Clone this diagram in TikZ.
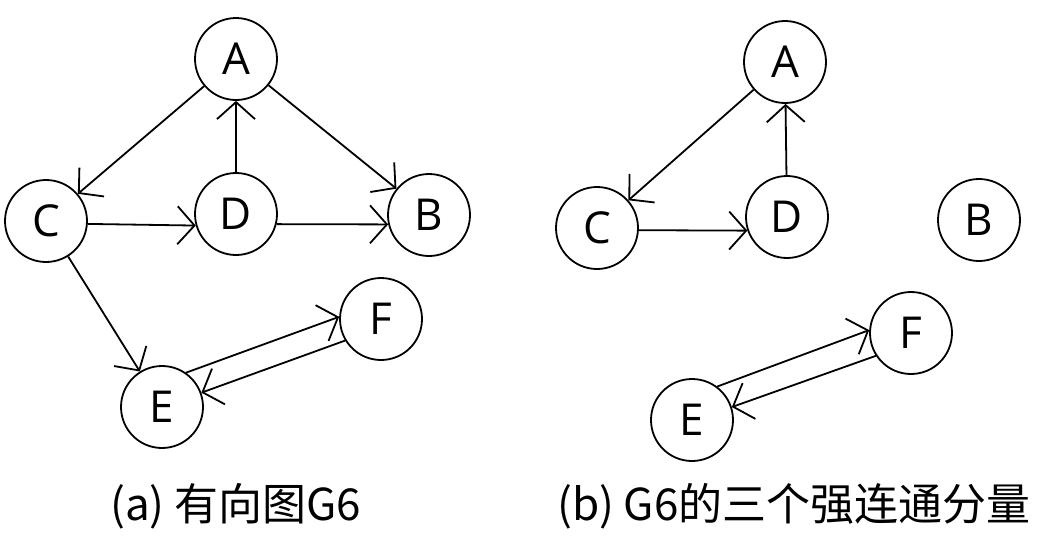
\documentclass[tikz,border=0pt]{standalone}
\usepackage{fontspec}
\setmainfont{Noto Sans CJK SC}
\newfontfamily\latinfont{Open Sans}
\usetikzlibrary{arrows.meta}

\begin{document}
\begin{tikzpicture}[x=1pt,y=-1pt,
  vertex/.style={circle, draw, line width=1.8pt, minimum size=82pt, inner sep=0pt,
                 font=\latinfont\fontsize{44}{44}\selectfont},
  arr/.style={line width=1.8pt, -{Straight Barb[length=17pt,width=38pt]}},
  caption/.style={font=\fontsize{44}{44}\selectfont, anchor=base west, inner sep=0pt}]
\useasboundingbox (0,0) rectangle (1039,538);

% (a) the directed graph G6
\node[vertex] (A) at (236,59)  {A};
\node[vertex] (C) at (46,221)  {C};
\node[vertex] (D) at (236,214) {D};
\node[vertex] (B) at (429,215) {B};
\node[vertex] (E) at (162,407) {E};
\node[vertex] (F) at (381,319) {F};

\draw[arr] (A) -- (C);
\draw[arr] (D) -- (A);
\draw[arr] (A) -- (B);
\draw[arr] (C.-4) -- (D.196);
\draw[arr] (D.-14) -- (B.193);
\draw[arr] (C) -- (E);
\draw[arr] (E.55) -- (F.177);
\draw[arr] (F.211) -- (E.20);

\node[caption] (capa) at (110,520) {(a) 有向图G6};

% (b) its three strongly connected components
\node[vertex] (A2) at (785,62)  {A};
\node[vertex] (C2) at (597,228) {C};
\node[vertex] (D2) at (787,217) {D};
\node[vertex] (B2) at (979,220) {B};
\node[vertex] (E2) at (692,420) {E};
\node[vertex] (F2) at (911,333) {F};

\draw[arr] (A2) -- (C2);
\draw[arr] (D2) -- (A2);
\draw[arr] (C2.-3) -- (D2.199);
\draw[arr] (E2.53) -- (F2.176);
\draw[arr] (F2.213) -- (E2.18);

\node[caption] (capb) at (557,520) {(b) G6的三个强连通分量};
\end{tikzpicture}
\end{document}
